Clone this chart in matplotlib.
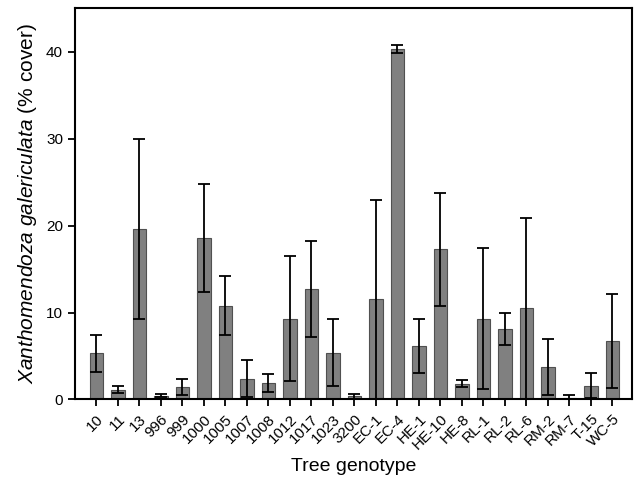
import numpy as np
import matplotlib.pyplot as plt

plt.rcParams['font.family'] = ['Liberation Sans', 'DejaVu Sans']
plt.rcParams['mathtext.fontset'] = 'custom'
plt.rcParams['mathtext.it'] = 'Liberation Sans:italic'
plt.rcParams['mathtext.rm'] = 'Liberation Sans'

genotypes = ['10', '11', '13', '996', '999', '1000', '1005', '1007', '1008',
             '1012', '1017', '1023', '3200', 'EC-1', 'EC-4', 'HE-1', 'HE-10',
             'HE-8', 'RL-1', 'RL-2', 'RL-6', 'RM-2', 'RM-7', 'T-15', 'WC-5']
cover = [5.3, 1.1, 19.6, 0.45, 1.4, 18.6, 10.8, 2.4, 1.9,
         9.3, 12.7, 5.4, 0.35, 11.5, 40.3, 6.1, 17.3,
         1.8, 9.3, 8.1, 10.5, 3.7, 0.2, 1.6, 6.7]
se = [2.1, 0.4, 10.4, 0.2, 0.9, 6.2, 3.4, 2.1, 1.0,
      7.2, 5.5, 3.8, 0.25, 11.4, 0.5, 3.1, 6.5,
      0.4, 8.1, 1.8, 10.4, 3.2, 0.35, 1.4, 5.4]

fig = plt.figure(figsize=(6.35, 4.79), dpi=100)
ax = fig.add_axes([0.118, 0.166, 0.877, 0.817])

x = np.arange(len(genotypes))
ax.bar(x, cover, width=0.62, color='#808080', edgecolor='#505050', linewidth=0.8,
       yerr=se, error_kw={'ecolor': 'black', 'elinewidth': 1.3, 'capsize': 4.3, 'capthick': 1.3})

ax.set_xlim(-1, 24.9)
ax.set_ylim(0, 45)
ax.set_yticks([0, 10, 20, 30, 40])
ax.set_xticks(x)
ax.set_xticklabels(genotypes, rotation=45, ha='right', rotation_mode='anchor')
ax.tick_params(labelsize=11, width=1.3, length=5, direction='out')
ax.tick_params(axis='x', pad=4)
for s in ax.spines.values():
    s.set_linewidth(1.5)

ax.set_xlabel('Tree genotype', fontsize=14)
ax.set_ylabel(r'$\it{Xanthomendoza}$ $\it{galericulata}$ (% cover)', fontsize=15, labelpad=5)

fig.savefig('out.png', dpi=100)
